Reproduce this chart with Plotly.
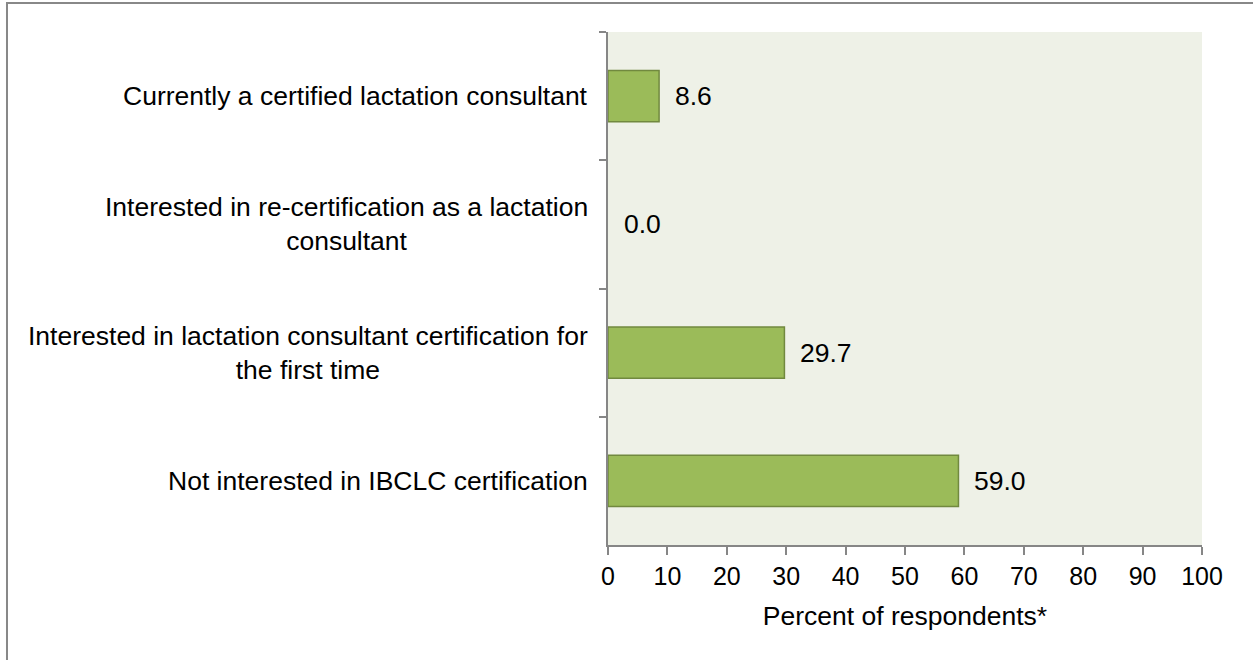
import plotly.graph_objects as go

categories = [
    "Currently a certified lactation consultant",
    "Interested in re-certification as a lactation<br>consultant",
    "Interested in lactation consultant certification for<br>the first time",
    "Not interested in IBCLC certification",
]
values = [8.6, 0.0, 29.7, 59.0]
x_ticks = [0, 10, 20, 30, 40, 50, 60, 70, 80, 90, 100]
x_title = "Percent of respondents*"

FONT = "Liberation Sans, Arial, sans-serif"
FS = 26.5
TICK_FS = 25

fig = go.Figure()
fig.add_trace(go.Bar(
    x=values, y=categories, orientation="h", width=0.4,
    marker=dict(color="#9BBB59",
                line=dict(color="#71893F", width=[1.5 if v > 0 else 0 for v in values])),
    hoverinfo="x+y",
))

annotations = []
for c, v in zip(categories, values):
    annotations.append(dict(
        x=v, y=c, xref="x", yref="y", text=f"{v:.1f}", showarrow=False,
        xanchor="left", yanchor="middle", xshift=14,
        font=dict(family=FONT, size=FS, color="black"),
    ))
    annotations.append(dict(
        x=0, y=c, xref="paper", yref="y", text=c, showarrow=False,
        xanchor="right", yanchor="middle", xshift=-18, align="center",
        font=dict(family=FONT, size=FS, color="black"),
    ))

fig.update_layout(
    width=1253, height=660,
    margin=dict(l=608, r=51, t=32, b=115),
    paper_bgcolor="white",
    plot_bgcolor="#EEF1E7",
    showlegend=False,
    font=dict(family=FONT, size=FS, color="black"),
    annotations=annotations,
    xaxis=dict(
        range=[0, 100], tickvals=x_ticks, ticktext=[str(t) for t in x_ticks],
        showgrid=False, zeroline=False,
        showline=True, linecolor="#868686", linewidth=1.5,
        ticks="outside", ticklen=8, tickcolor="#868686", tickwidth=1.5,
        tickfont=dict(family=FONT, size=TICK_FS, color="black"),
        title=dict(text=x_title, font=dict(family=FONT, size=FS, color="black"), standoff=18),
    ),
    yaxis=dict(
        type="category", categoryorder="array", categoryarray=categories,
        range=[3.5, -0.5], tickson="boundaries",
        showticklabels=False, showgrid=False, zeroline=False,
        showline=True, linecolor="#868686", linewidth=1.5,
        ticks="outside", ticklen=7, tickcolor="#868686", tickwidth=1.5,
    ),
    shapes=[dict(
        type="rect", xref="paper", yref="paper",
        x0=-1.0118, x1=1.1, y0=-0.3, y1=1.0565,
        line=dict(color="#888888", width=2), fillcolor="rgba(0,0,0,0)", layer="below",
    )],
)

fig.write_html("out.html", config={"displayModeBar": False},
               post_script="document.body.style.margin='0';document.body.style.overflow='hidden';")
